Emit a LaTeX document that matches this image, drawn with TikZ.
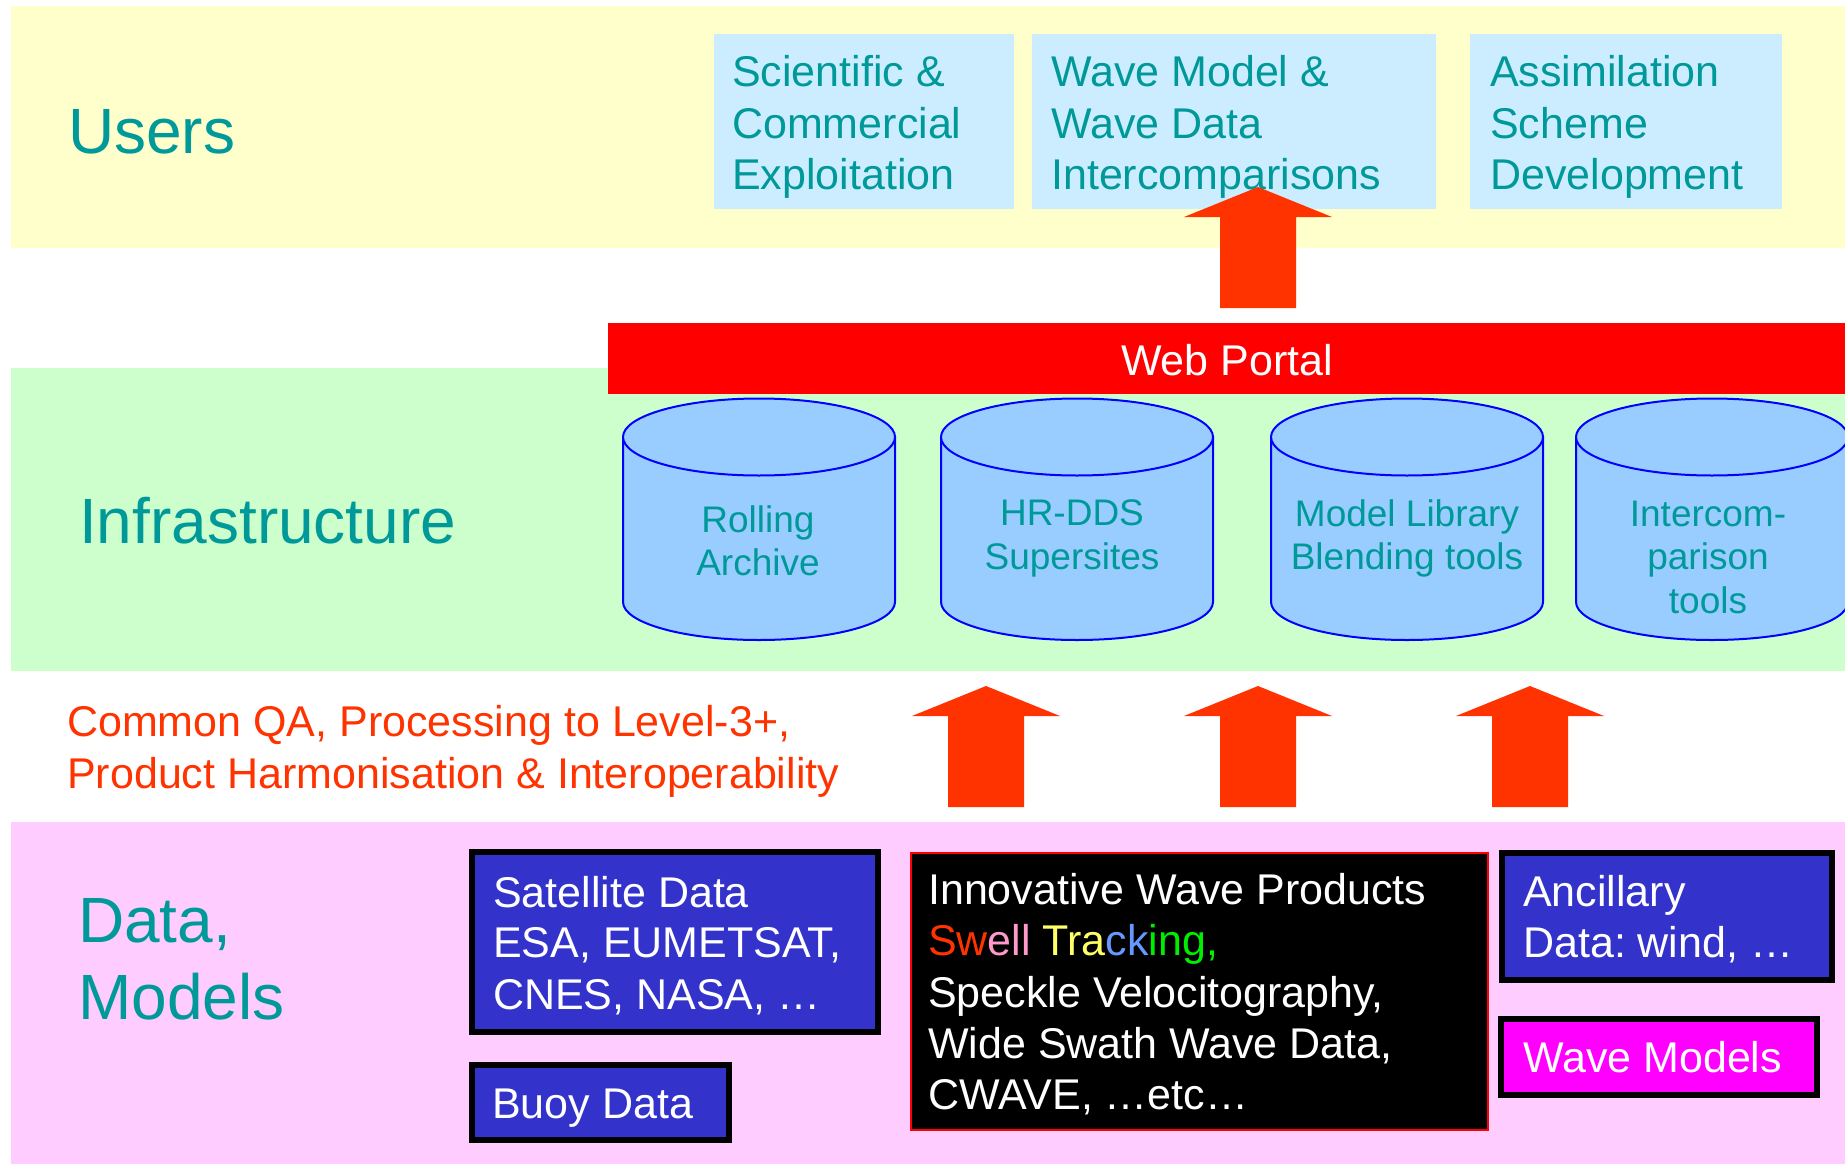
\documentclass[tikz,border=0pt]{standalone}
\usepackage{fontspec}
\setmainfont{Liberation Sans}
\usetikzlibrary{calc}
\frenchspacing

\definecolor{bandyellow}{HTML}{FFFFCC}
\definecolor{bandgreen}{HTML}{CCFFCC}
\definecolor{bandpink}{HTML}{FFCCFF}
\definecolor{userbox}{HTML}{CCECFF}
\definecolor{tealtext}{HTML}{009999}
\definecolor{portalred}{HTML}{FF0000}
\definecolor{arrowred}{HTML}{FF3300}
\definecolor{drumfill}{HTML}{99CCFF}
\definecolor{drumline}{HTML}{0000FF}
\definecolor{databluefill}{HTML}{3333CC}
\definecolor{wavemagenta}{HTML}{FF00FF}
\definecolor{swellpink}{HTML}{FF99CC}
\definecolor{swellyellow}{HTML}{FFFF66}
\definecolor{swellblue}{HTML}{6699FF}
\definecolor{swellgreen}{HTML}{00EE00}

\tikzset{
  layerlabel/.style={font=\fontsize{64}{77}\selectfont, text=tealtext, inner sep=0pt, anchor=base west},
  bodytext/.style={font=\fontsize{43}{51}\selectfont, inner sep=0pt, anchor=base west},
  usertext/.style={bodytext, text=tealtext},
  whitetext/.style={bodytext, text=white},
  drumtext/.style={font=\fontsize{37}{44}\selectfont, text=tealtext, inner sep=0pt, anchor=base},
  userpanel/.style={fill=userbox, draw=none, inner sep=0pt, outer sep=0pt},
  darkbox/.style={draw=black, line width=6pt, inner sep=0pt, outer sep=0pt},
  drumstyle/.style={fill=drumfill, draw=drumline, line width=2pt},
  blockarrow/.style={fill=arrowred, draw=none}
}

% cylinder centred horizontally at #1
\newcommand{\drum}[1]{%
  \filldraw[drumstyle] (#1-136,437) -- (#1-136,602)
    arc[start angle=180, end angle=360, x radius=136pt, y radius=38pt]
    -- (#1+136,437) -- cycle;
  \filldraw[drumstyle] (#1,437) ellipse [x radius=136pt, y radius=38.5pt];
}

% broad upward arrow whose shaft foot is centred on coordinate #1
\newcommand{\bigup}[1]{%
  \fill[blockarrow] ($(#1)+(-38,0)$) -- ++(0,-91) -- ++(-36,0) -- ++(74,-30)
    -- ++(74,30) -- ++(-36,0) -- ++(0,91) -- cycle;
}

\begin{document}
\begin{tikzpicture}[x=1pt, y=-1pt]
\useasboundingbox (0,0) rectangle (1845,1164);
\clip (0,0) rectangle (1845,1164);
\fill[white] (0,0) rectangle (1845,1164);

% layer bands
\fill[bandyellow] (11,6) rectangle (1845,248);
\fill[bandgreen] (11,368) rectangle (1845,671);
\fill[bandpink] (11,822) rectangle (1845,1164);

% layer labels
\node[layerlabel] (lusers) at (68,153) {Users};
\node[layerlabel] (linfra) at (79,543) {Infrastructure};
\node[layerlabel] (ldata) at (78,942) {Data,};
\node[layerlabel] (lmodels) at (78,1019) {Models};

% user panels
\node[userpanel, minimum width=300pt, minimum height=174pt] (sci) at (864,121.5) {};
\node[userpanel, minimum width=404pt, minimum height=174pt] (inter) at (1234,121.5) {};
\node[userpanel, minimum width=312pt, minimum height=174pt] (assim) at (1626,121.5) {};

\node[usertext] (sci1) at (732,87) {Scientific \&};
\node[usertext] (sci2) at (732,138) {Commercial};
\node[usertext] (sci3) at (732,189) {Exploitation};
\node[usertext] (inter1) at (1051,87) {Wave Model \&};
\node[usertext] (inter2) at (1051,138) {Wave Data};
\node[usertext] (inter3) at (1051,189) {Intercomparisons};
\node[usertext] (assim1) at (1490,87) {Assimilation};
\node[usertext] (assim2) at (1490,138) {Scheme};
\node[usertext] (assim3) at (1490,189) {Development};

% web portal bar
\node[fill=portalred, inner sep=0pt, outer sep=0pt, minimum width=1237pt, minimum height=71pt] (portal) at (1226.5,358.5) {};
\node[bodytext, text=white, anchor=base] (portaltext) at (1227,375) {Web Portal};

% portal up to the user panels
\bigup{1258,308}

% infrastructure drums
\drum{759}
\drum{1077}
\drum{1407}
\drum{1712}
\node[drumtext] (roll1) at (758,532) {Rolling};
\node[drumtext] (roll2) at (758,575) {Archive};
\node[drumtext] (hr1) at (1072,525) {HR-DDS};
\node[drumtext] (hr2) at (1072,569) {Supersites};
\node[drumtext] (lib1) at (1407,526) {Model Library};
\node[drumtext] (lib2) at (1407,569) {Blending tools};
\node[drumtext] (cmp1) at (1708,526) {Intercom-};
\node[drumtext] (cmp2) at (1708,569) {parison};
\node[drumtext] (cmp3) at (1708,613) {tools};

% processing note
\node[bodytext, text=arrowred] (qa1) at (67,736) {Common QA, Processing to Level-3+,};
\node[bodytext, text=arrowred] (qa2) at (67,788) {Product Harmonisation \& Interoperability};

% data up to the infrastructure
\bigup{986,807}
\bigup{1258,807}
\bigup{1530,807}

% data sources
\node[darkbox, fill=databluefill, minimum width=406pt, minimum height=180pt] (sat) at (675,942) {};
\node[whitetext] (sat1) at (493,907) {Satellite Data};
\node[whitetext] (sat2) at (493,957) {ESA, EUMETSAT,};
\node[whitetext] (sat3) at (493,1009) {CNES, NASA, …};

\node[darkbox, fill=databluefill, minimum width=257pt, minimum height=75pt] (buoy) at (600.5,1102.5) {};
\node[whitetext] (buoy1) at (492,1118) {Buoy Data};

\node[draw=portalred, line width=2pt, fill=black, inner sep=0pt, outer sep=0pt, minimum width=577pt, minimum height=277pt] (innov) at (1199.5,991.5) {};
\node[whitetext] (innov1) at (928,904) {Innovative Wave Products};
\node[whitetext] (innov2) at (928,955) {{\color{arrowred}Sw}{\color{swellpink}ell} {\color{swellyellow}Tra}{\color{swellblue}ck}{\color{swellgreen}ing,}};
\node[whitetext] (innov3) at (928,1007) {Speckle Velocitography,};
\node[whitetext] (innov4) at (928,1058) {Wide Swath Wave Data,};
\node[whitetext] (innov5) at (928,1109) {CWAVE, …etc…};

\node[darkbox, fill=databluefill, minimum width=330pt, minimum height=127pt] (anc) at (1666.5,916.5) {};
\node[whitetext] (anc1) at (1523,906) {Ancillary};
\node[whitetext] (anc2) at (1523,957) {Data: wind, …};

\node[darkbox, fill=wavemagenta, minimum width=316pt, minimum height=76pt] (wave) at (1659,1057) {};
\node[whitetext] (wave1) at (1523,1072) {Wave Models};
\end{tikzpicture}
\end{document}
